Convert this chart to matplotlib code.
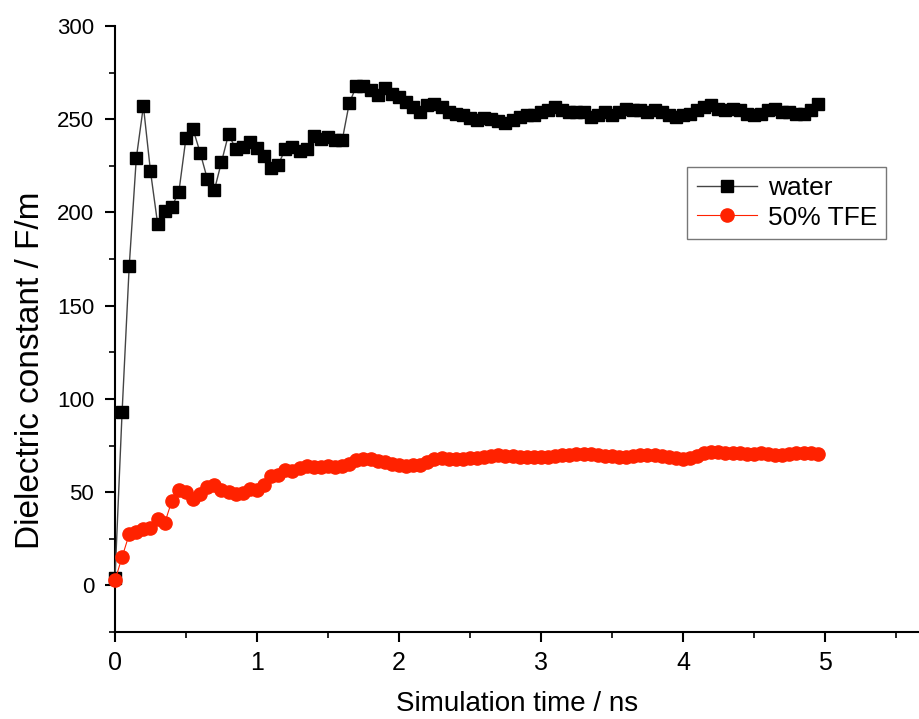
import numpy as np
import matplotlib
matplotlib.use("Agg")
import matplotlib.pyplot as plt
from matplotlib.ticker import MultipleLocator

plt.rcParams['font.family'] = ['Liberation Sans', 'DejaVu Sans']

time_ns = [round(0.05 * i, 2) for i in range(100)]

water = [4, 93, 171, 229, 257, 222, 194, 201, 203, 211,
         240, 244.5, 232, 218, 212, 227, 242, 234, 235, 238,
         234.5, 230, 224, 225.6, 234, 235, 232.7, 233.8, 241, 239.5,
         240.4, 239, 238.6, 258.5, 267.7, 268, 265.4, 263, 266.7, 263.6,
         261.8, 259.2, 256.5, 253.8, 257.4, 258.3, 256.5, 253.8, 252.9, 252.4,
         250.6, 249.3, 250.6, 250.2, 248.8, 248.1, 249.3, 251.1, 252, 252.4,
         253.8, 254.7, 256.5, 254.7, 253.8, 254, 253.8, 251.1, 252, 253.8,
         252, 253.8, 255.6, 254.7, 254.7, 253.8, 254.7, 253.8, 252, 251.1,
         252, 252.9, 254.7, 256.5, 257.7, 255.6, 254.7, 255.6, 254.7, 252.9,
         252, 252.9, 254.7, 255.6, 253.8, 253.8, 252.9, 252.9, 254.7, 258]

tfe = [2.7, 15.2, 27.4, 28.6, 30.4, 30.9, 35.7, 33.4, 45.2, 51.3,
       50, 46.5, 48.8, 52.7, 53.6, 50.9, 50, 48.8, 49.5, 51.8,
       50.9, 53.6, 58.4, 59, 61.7, 61.3, 63.1, 63.8, 63.4, 63.4,
       63.8, 63.4, 63.8, 64.9, 67.4, 67.9, 67.9, 66.6, 66.1, 65.2,
       64.3, 63.8, 64.5, 64.7, 66.1, 67.5, 68.3, 68, 67.9, 68,
       68.2, 68.5, 68.8, 69.3, 69.7, 69.5, 69.2, 68.8, 68.6, 68.6,
       68.8, 69, 69.4, 69.8, 70.1, 70.3, 70.4, 70.2, 69.9, 69.5,
       69.2, 68.9, 68.8, 69.3, 69.8, 70.1, 70, 69.5, 69, 68.5,
       68, 68.3, 69.5, 70.8, 71.5, 71.3, 71, 71.2, 70.8, 70.5,
       70.6, 71, 70.5, 70, 69.8, 70.4, 71, 70.8, 71.2, 70.5]

fig = plt.figure(figsize=(9.2, 7.19), dpi=100)
ax = fig.add_axes([0.125, 0.121, 0.875, 0.843])

ax.plot(time_ns, water, color='#444444', lw=1.0, marker='s', ms=8,
        mfc='black', mec='black', label='water', clip_on=False, zorder=3)
ax.plot(time_ns, tfe, color='#ff2200', lw=0.8, marker='o', ms=9.5,
        mfc='#ff2200', mec='#ff2200', label='50% TFE', clip_on=False, zorder=4)

ax.set_xlim(0, 5.67)
ax.set_ylim(-25, 300)
ax.xaxis.set_major_locator(MultipleLocator(1))
ax.xaxis.set_minor_locator(MultipleLocator(0.5))
ax.yaxis.set_major_locator(MultipleLocator(50))
ax.yaxis.set_minor_locator(MultipleLocator(25))

for s in ['top', 'right']:
    ax.spines[s].set_visible(False)
for s in ['left', 'bottom']:
    ax.spines[s].set_linewidth(1.5)

ax.tick_params(which='major', direction='out', length=7, width=1.5)
ax.tick_params(which='minor', direction='out', length=4, width=1.2)
ax.tick_params(axis='y', labelsize=16, pad=8)
ax.tick_params(axis='x', labelsize=18, pad=7)
ax.set_xticks([0, 1, 2, 3, 4, 5])
ax.set_xticklabels(['0', '1', '2', '3', '4', '5'])

ax.set_xlabel('Simulation time / ns', fontsize=20)
ax.xaxis.label.set_va('center')
ax.xaxis.set_label_coords(0.5, -0.118)
ax.set_ylabel('Dielectric constant / F/m', fontsize=24)
ax.yaxis.label.set_va('center')
ax.yaxis.set_label_coords(-0.105, 0.432)

leg = ax.legend(loc='upper left', bbox_to_anchor=(0.711, 0.767), fontsize=19,
                frameon=True, fancybox=False, edgecolor='#555555',
                handlelength=2.3, borderpad=0.35, labelspacing=0.2,
                handletextpad=0.4, borderaxespad=0)
leg.get_frame().set_linewidth(1.0)

fig.savefig('out.png', dpi=100)
